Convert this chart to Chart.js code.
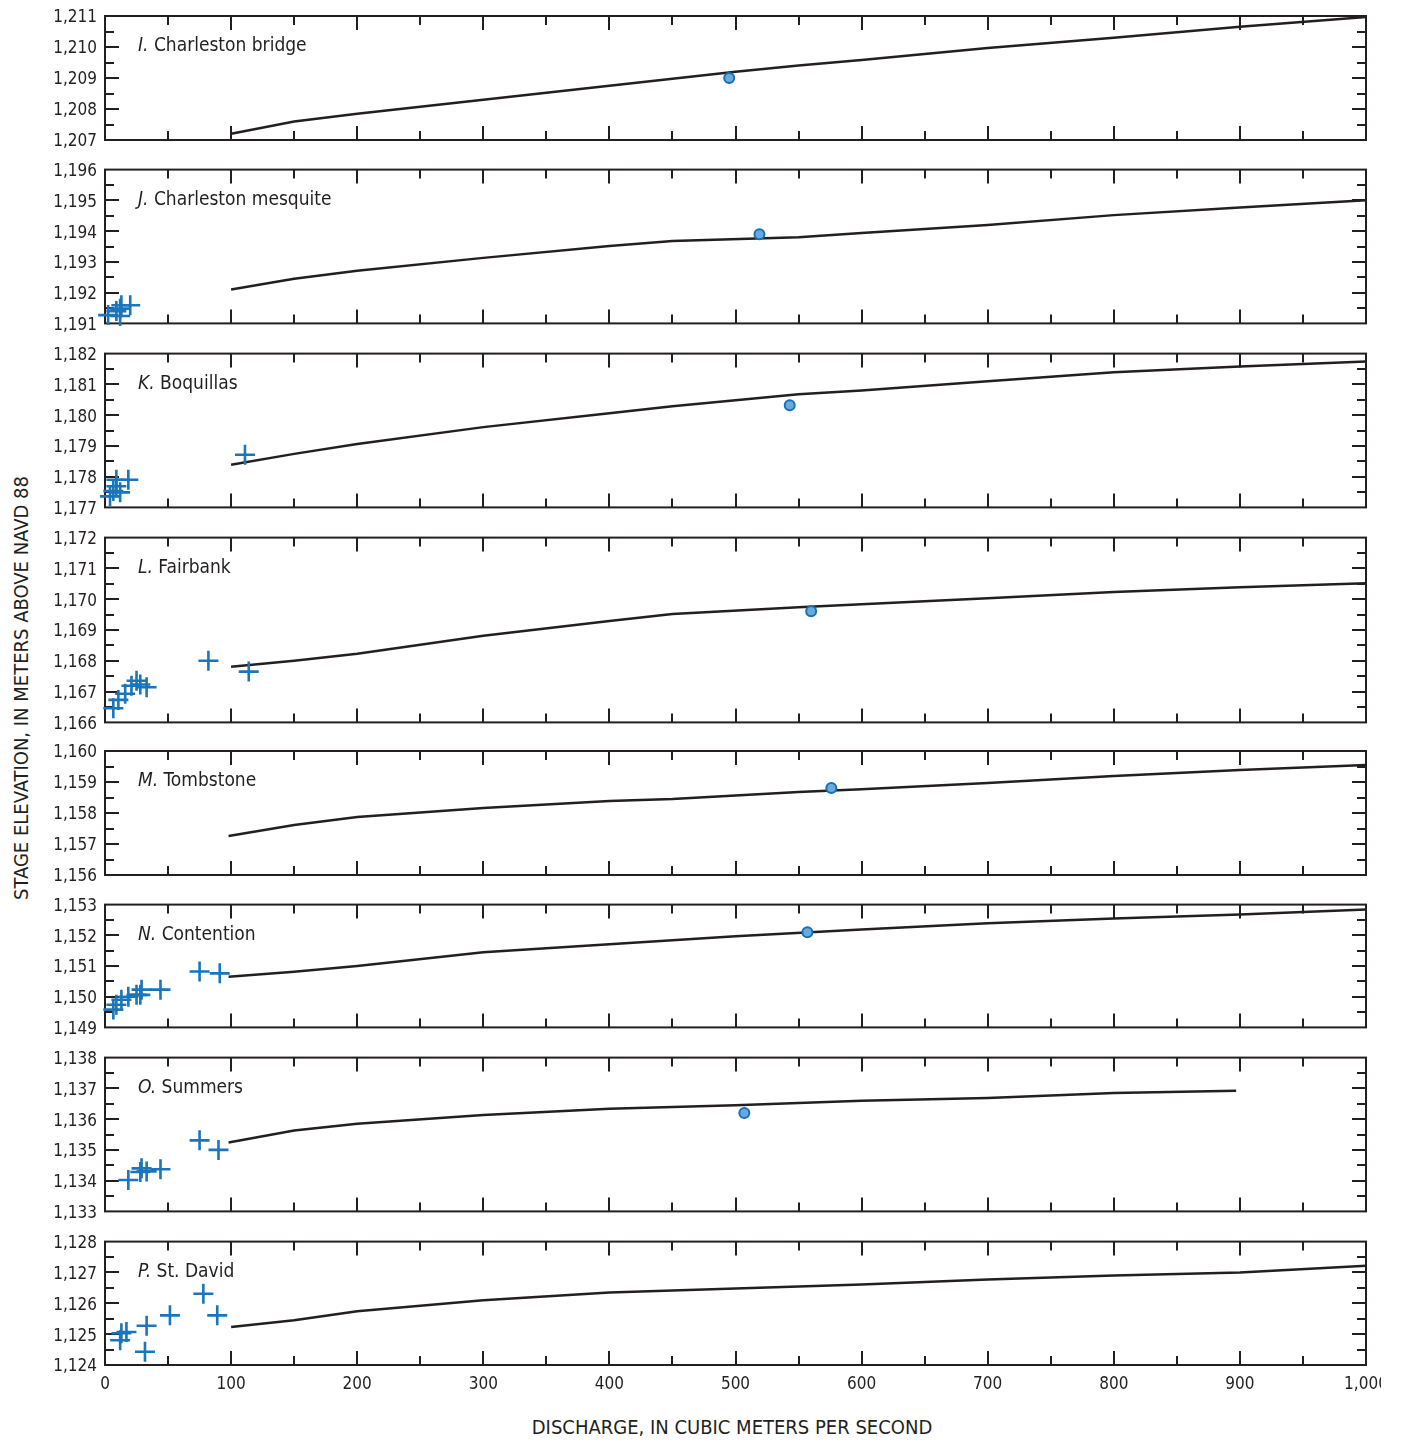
<!DOCTYPE html>
<html><head><meta charset="utf-8">
<script src="https://cdn.jsdelivr.net/npm/chart.js@4.4.1/dist/chart.umd.min.js"></script>
<style>
html,body{margin:0;padding:0;background:#fff;}
body{width:1402px;height:1441px;position:relative;overflow:hidden;font-family:"DejaVu Sans Condensed","DejaVu Sans",sans-serif;color:#231f20;}
.wrap{position:absolute;left:0;overflow:hidden;}
.inner{position:absolute;left:0;top:0;}
.ytitle{position:absolute;left:21px;top:688px;transform:translate(-50%,-50%) rotate(-90deg);white-space:nowrap;font-size:20px;}
.xtitle{position:absolute;left:732px;top:1427px;transform:translate(-50%,-50%);white-space:nowrap;font-size:20px;}
</style></head><body>
<div class="ytitle">STAGE ELEVATION, IN METERS ABOVE NAVD 88</div>
<div class="xtitle">DISCHARGE, IN CUBIC METERS PER SECOND</div>
<script>
// ---------------- DATA ----------------
const panelLetters = ["I.","J.","K.","L.","M.","N.","O.","P."];
const panelNames = ["Charleston bridge","Charleston mesquite","Boquillas","Fairbank","Tombstone","Contention","Summers","St. David"];
const yMins = [1207,1191,1177,1166,1156,1149,1133,1124];
const yMaxs = [1211,1196,1182,1172,1160,1153,1138,1128];
const xMin = 0, xMax = 1000, xStep = 100;

// rating curves (discharge, stage)
const curveQ_I = [100,150,200,300,400,500,550,600,700,800,900,1000];
const curveZ_I = [1207.2,1207.6,1207.85,1208.3,1208.75,1209.2,1209.4,1209.58,1209.97,1210.3,1210.65,1210.97];
const curveQ_J = [100,150,200,300,400,450,550,600,700,800,900,1000];
const curveZ_J = [1192.1,1192.45,1192.71,1193.13,1193.52,1193.68,1193.8,1193.94,1194.2,1194.52,1194.77,1195.0];
const curveQ_K = [100,150,200,300,400,450,550,600,700,800,900,1000];
const curveZ_K = [1178.39,1178.74,1179.06,1179.61,1180.06,1180.29,1180.68,1180.8,1181.1,1181.39,1181.58,1181.74];
const curveQ_L = [100,150,200,300,400,450,550,600,700,800,900,1000];
const curveZ_L = [1167.81,1168.0,1168.23,1168.81,1169.29,1169.52,1169.74,1169.84,1170.03,1170.23,1170.39,1170.52];
const curveQ_M = [98,150,200,300,400,450,550,600,700,800,900,1000];
const curveZ_M = [1157.26,1157.61,1157.87,1158.16,1158.39,1158.45,1158.68,1158.77,1158.97,1159.19,1159.39,1159.55];
const curveQ_N = [98,150,200,300,400,500,600,700,800,900,1000];
const curveZ_N = [1150.65,1150.81,1151.0,1151.45,1151.71,1151.97,1152.19,1152.39,1152.55,1152.68,1152.84];
const curveQ_O = [98,150,200,300,400,500,600,700,800,897];
const curveZ_O = [1135.24,1135.63,1135.85,1136.13,1136.34,1136.45,1136.6,1136.69,1136.85,1136.92];
const curveQ_P = [100,150,200,300,400,500,600,700,800,900,1000];
const curveZ_P = [1125.23,1125.45,1125.74,1126.1,1126.35,1126.48,1126.61,1126.77,1126.9,1127.0,1127.22];

// peak (circle) measurements
const peakQ = [495,519,543,560,576,557,507,null];
const peakZ = [1209.0,1193.9,1180.32,1169.61,1158.81,1152.1,1136.2,null];

// field measurements (crosses)
const obsQ_I = [], obsZ_I = [];
const obsQ_J = [2.5,9,12,13,20,12];
const obsZ_J = [1191.27,1191.4,1191.48,1191.59,1191.59,1191.24];
const obsQ_K = [4,6.6,9,9,12,18.5,111];
const obsZ_K = [1177.36,1177.53,1177.9,1177.69,1177.49,1177.9,1178.71];
const obsQ_L = [6.6,10.6,16,21,25,28,33,82,114];
const obsZ_L = [1166.46,1166.73,1166.93,1167.19,1167.35,1167.23,1167.14,1168.0,1167.65];
const obsQ_M = [], obsZ_M = [];
const obsQ_N = [6.6,9,13,18.5,25,28,29,44,75,91];
const obsZ_N = [1149.58,1149.74,1149.9,1150.0,1150.06,1150.06,1150.23,1150.23,1150.82,1150.76];
const obsQ_O = [18.5,28,29,33,44,75,90];
const obsZ_O = [1134.02,1134.28,1134.4,1134.3,1134.37,1135.31,1135.0];
const obsQ_P = [12,13,17,31.7,33,51.5,78,89];
const obsZ_P = [1124.8,1125.03,1125.07,1124.43,1125.27,1125.61,1126.31,1125.61];

const curvesQ = [curveQ_I,curveQ_J,curveQ_K,curveQ_L,curveQ_M,curveQ_N,curveQ_O,curveQ_P];
const curvesZ = [curveZ_I,curveZ_J,curveZ_K,curveZ_L,curveZ_M,curveZ_N,curveZ_O,curveZ_P];
const obsQs = [obsQ_I,obsQ_J,obsQ_K,obsQ_L,obsQ_M,obsQ_N,obsQ_O,obsQ_P];
const obsZs = [obsZ_I,obsZ_J,obsZ_K,obsZ_L,obsZ_M,obsZ_N,obsZ_O,obsZ_P];

// ---------------- LAYOUT / STYLE ----------------
const INK = '#231f20';
const FONT = '"DejaVu Sans Condensed", "DejaVu Sans", sans-serif';
const panelTops = [16,169,353,537,751,904,1057,1241];
const PX_PER_M = 31;
const PAD = 12;
const VISIBLE_W = 1381;   // figure is cropped at this width
const CANVAS_W = 1430;
const PLOT_LEFT = 105, PLOT_RIGHT = 1366;
const XAXIS_H = 50;

const pairs = (a,b) => a.map((v,i)=>({x:v,y:b[i]}));

const deco = {
  id:'deco',
  beforeDatasetsDraw(chart, args, opts){
    const {ctx, chartArea:a, scales:{x,y}} = chart;
    ctx.save();
    ctx.strokeStyle = INK; ctx.lineWidth = 2; ctx.lineCap='butt';
    ctx.beginPath();
    for (let v = y.min + 0.5; v < y.max - 1e-6; v += 0.5){
      const len = Math.abs(v - Math.round(v)) < 1e-6 ? 14 : 9;
      const py = Math.round(y.getPixelForValue(v));
      ctx.moveTo(a.left, py); ctx.lineTo(a.left + len, py);
      ctx.moveTo(a.right, py); ctx.lineTo(a.right - len, py);
    }
    for (let v = xMin + 50; v < xMax; v += 50){
      const len = v % 100 === 0 ? 14 : 9;
      const px = Math.round(x.getPixelForValue(v));
      ctx.moveTo(px, a.top); ctx.lineTo(px, a.top + len);
      ctx.moveTo(px, a.bottom); ctx.lineTo(px, a.bottom - len);
    }
    ctx.stroke();
    ctx.strokeRect(a.left, a.top, a.width, a.height);
    // panel label
    ctx.fillStyle = INK; ctx.textBaseline = 'middle'; ctx.textAlign = 'left';
    ctx.font = 'italic 19px ' + FONT;
    const lx = a.left + 33, ly = a.top + 30;
    ctx.fillText(opts.letter, lx, ly);
    const w = ctx.measureText(opts.letter).width;
    ctx.font = '19px ' + FONT;
    ctx.fillText(' ' + opts.name, lx + w, ly);
    ctx.restore();
  }
};

const noPad = s => { s.paddingTop = 0; s.paddingBottom = 0; s.paddingLeft = 0; s.paddingRight = 0; };

panelLetters.forEach((letter, i) => {
  const isLast = i === panelLetters.length - 1;
  const h = (yMaxs[i] - yMins[i]) * PX_PER_M;
  const ch = PAD + h + (isLast ? XAXIS_H : PAD);
  const wrap = document.createElement('div');
  wrap.className = 'wrap';
  wrap.style.top = (panelTops[i] - PAD) + 'px';
  wrap.style.width = VISIBLE_W + 'px';
  wrap.style.height = ch + 'px';
  const inner = document.createElement('div');
  inner.className = 'inner';
  inner.style.width = CANVAS_W + 'px';
  inner.style.height = ch + 'px';
  const cv = document.createElement('canvas');
  inner.appendChild(cv);
  wrap.appendChild(inner);
  document.body.appendChild(wrap);

  const datasets = [
    {data: pairs(curvesQ[i], curvesZ[i]), showLine:true, borderColor:INK, borderWidth:2.5,
     pointRadius:0, tension:0, fill:false, order:3, clip:false},
    {data: pairs(obsQs[i], obsZs[i]), pointStyle:'cross', pointRadius:10, borderWidth:2.6,
     borderColor:'#1a75bb', backgroundColor:'#1a75bb', order:2, clip:false}
  ];
  if (peakQ[i] !== null){
    datasets.push({data:[{x:peakQ[i], y:peakZ[i]}], pointStyle:'circle', pointRadius:5, borderWidth:2,
      borderColor:'#1570b5', backgroundColor:'#6aa9dc', order:1, clip:false});
  }

  const xScale = {type:'linear', min:xMin, max:xMax, display:isLast,
     grid:{display:false, drawTicks:false}, border:{display:false},
     ticks:{stepSize:xStep, padding:9, autoSkip:false, maxRotation:0, color:INK, font:{family:FONT, size:17},
            callback:v=>Number(v).toLocaleString('en-US')},
     afterFit: s => { noPad(s); if (isLast) s.height = XAXIS_H; }};

  new Chart(cv, {
    type:'scatter',
    data:{datasets},
    options:{
      responsive:true, maintainAspectRatio:false, animation:false, devicePixelRatio:1,
      layout:{padding:{top:PAD, bottom:isLast?0:PAD, left:0, right:CANVAS_W-PLOT_RIGHT}},
      plugins:{legend:{display:false}, tooltip:{enabled:false}, deco:{letter, name:panelNames[i]}},
      scales:{
        x:xScale,
        y:{type:'linear', min:yMins[i], max:yMaxs[i],
           grid:{display:false, drawTicks:false}, border:{display:false},
           ticks:{stepSize:1, padding:8, labelOffset:2, autoSkip:false, color:INK, font:{family:FONT, size:17},
                  callback:v=>Number(v).toLocaleString('en-US')},
           afterFit: s => { noPad(s); s.width = PLOT_LEFT; }}
      }
    },
    plugins:[deco]
  });
});
</script>
</body></html>
